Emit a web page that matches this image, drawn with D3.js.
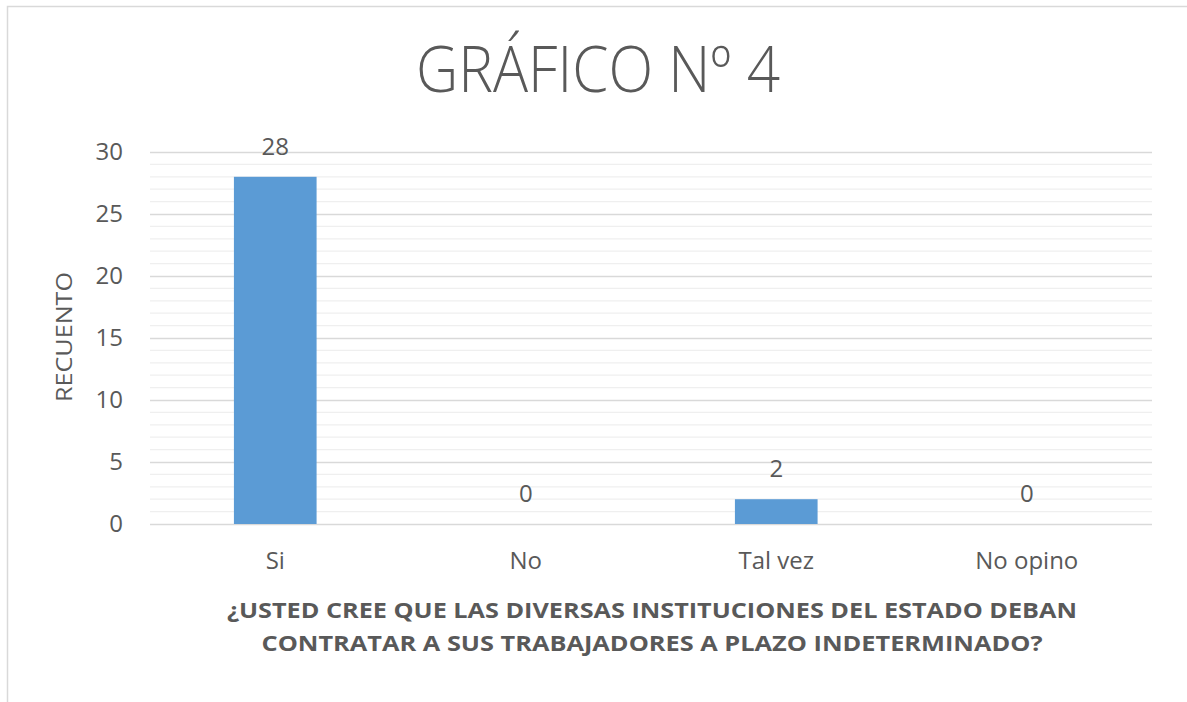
<!DOCTYPE html>
<html>
<head>
<meta charset="utf-8">
<script src="https://cdn.jsdelivr.net/npm/d3@7"></script>
<style>
  body { margin: 0; background: #fff; }
  text { font-family: "Open Sans", "Noto Sans", sans-serif; fill: #595959; }
</style>
</head>
<body>
<div id="chart"></div>
<script>
var categories = ["Si", "No", "Tal vez", "No opino"];
var counts = [28, 0, 2, 0];
var yTicks = [0, 5, 10, 15, 20, 25, 30];
var titleText = "GRÁFICO Nº 4";
var yTitle = "RECUENTO";
var xTitleLines = [
  "¿USTED CREE QUE LAS DIVERSAS INSTITUCIONES DEL ESTADO DEBAN",
  "CONTRATAR A SUS TRABAJADORES A PLAZO INDETERMINADO?"
];

var svgWidth = 1187;
var svgHeight = 702;
var margin = { top: 152, right: 35, bottom: 178, left: 150 };
var width = svgWidth - margin.left - margin.right;
var height = svgHeight - margin.top - margin.bottom;

var svg = d3.select("#chart")
  .append("svg")
  .attr("width", svgWidth)
  .attr("height", svgHeight);

// outer frame (only left and top visible in the picture)
svg.append("rect")
  .attr("x", 7.5).attr("y", 6.5)
  .attr("width", 1250).attr("height", 750)
  .attr("fill", "none")
  .attr("stroke", "#d9d9d9")
  .attr("stroke-width", 1.5);

var chartGroup = svg.append("g")
  .attr("transform", `translate(${margin.left}, ${margin.top})`);

var xScale = d3.scaleBand()
  .domain(categories)
  .range([0, width])
  .paddingInner(0.67)
  .paddingOuter(0.335);

var yScale = d3.scaleLinear()
  .domain([0, 30])
  .range([height, 0]);

// minor gridlines every 1
chartGroup.append("g")
  .selectAll("line")
  .data(d3.range(1, 30).filter(d => d % 5 !== 0))
  .enter()
  .append("line")
  .attr("x1", 0).attr("x2", width)
  .attr("y1", d => yScale(d)).attr("y2", d => yScale(d))
  .attr("stroke", "#efefef")
  .attr("stroke-width", 1.3);

// major gridlines + tick labels
var leftAxis = d3.axisLeft(yScale)
  .tickValues(yTicks)
  .tickSize(-width)
  .tickPadding(27);

var yAxisG = chartGroup.append("g").call(leftAxis);
yAxisG.select(".domain").remove();
yAxisG.selectAll(".tick line")
  .attr("stroke", "#d9d9d9")
  .attr("stroke-width", 1.5);
yAxisG.selectAll(".tick text")
  .attr("fill", "#595959")
  .style("font-size", "24px")
  .style("font-family", "\"Open Sans\", sans-serif");

// bars
chartGroup.selectAll("rect.bar")
  .data(counts)
  .enter()
  .append("rect")
  .attr("class", "bar")
  .attr("x", (d, i) => xScale(categories[i]))
  .attr("y", d => yScale(d))
  .attr("width", xScale.bandwidth())
  .attr("height", d => height - yScale(d))
  .attr("fill", "#5b9bd5");

// data labels
chartGroup.selectAll("text.value")
  .data(counts)
  .enter()
  .append("text")
  .attr("class", "value")
  .attr("x", (d, i) => xScale(categories[i]) + xScale.bandwidth() / 2)
  .attr("y", d => yScale(d) - 22)
  .attr("text-anchor", "middle")
  .style("font-size", "24px")
  .text(d => d);

// category labels
var bottomAxis = d3.axisBottom(xScale).tickSize(0).tickPadding(28);
var xAxisG = chartGroup.append("g")
  .attr("transform", `translate(0, ${height})`)
  .call(bottomAxis);
xAxisG.select(".domain").remove();
xAxisG.selectAll(".tick text")
  .attr("fill", "#595959")
  .style("font-size", "24px")
  .style("font-family", "\"Open Sans\", sans-serif");

// title
svg.append("text")
  .attr("x", 598)
  .attr("y", 92)
  .attr("text-anchor", "middle")
  .attr("textLength", 364)
  .attr("lengthAdjust", "spacingAndGlyphs")
  .style("font-size", "64px")
  .style("font-weight", 350)
  .text(titleText);

// y axis title
svg.append("text")
  .attr("transform", "translate(72, 337) rotate(-90)")
  .attr("text-anchor", "middle")
  .attr("textLength", 130)
  .attr("lengthAdjust", "spacingAndGlyphs")
  .style("font-size", "21px")
  .style("font-weight", 500)
  .text(yTitle);

// x axis title (two lines)
var xTitleWidths = [850, 781];
svg.selectAll("text.xtitle")
  .data(xTitleLines)
  .enter()
  .append("text")
  .attr("class", "xtitle")
  .attr("x", 652)
  .attr("y", (d, i) => 618 + i * 33)
  .attr("text-anchor", "middle")
  .attr("textLength", (d, i) => xTitleWidths[i])
  .attr("lengthAdjust", "spacingAndGlyphs")
  .style("font-family", "\"Liberation Sans Narrow\", \"Open Sans\", sans-serif")
  .style("font-size", "22px")
  .style("font-weight", "bold")
  .text(d => d);
</script>
</body>
</html>
